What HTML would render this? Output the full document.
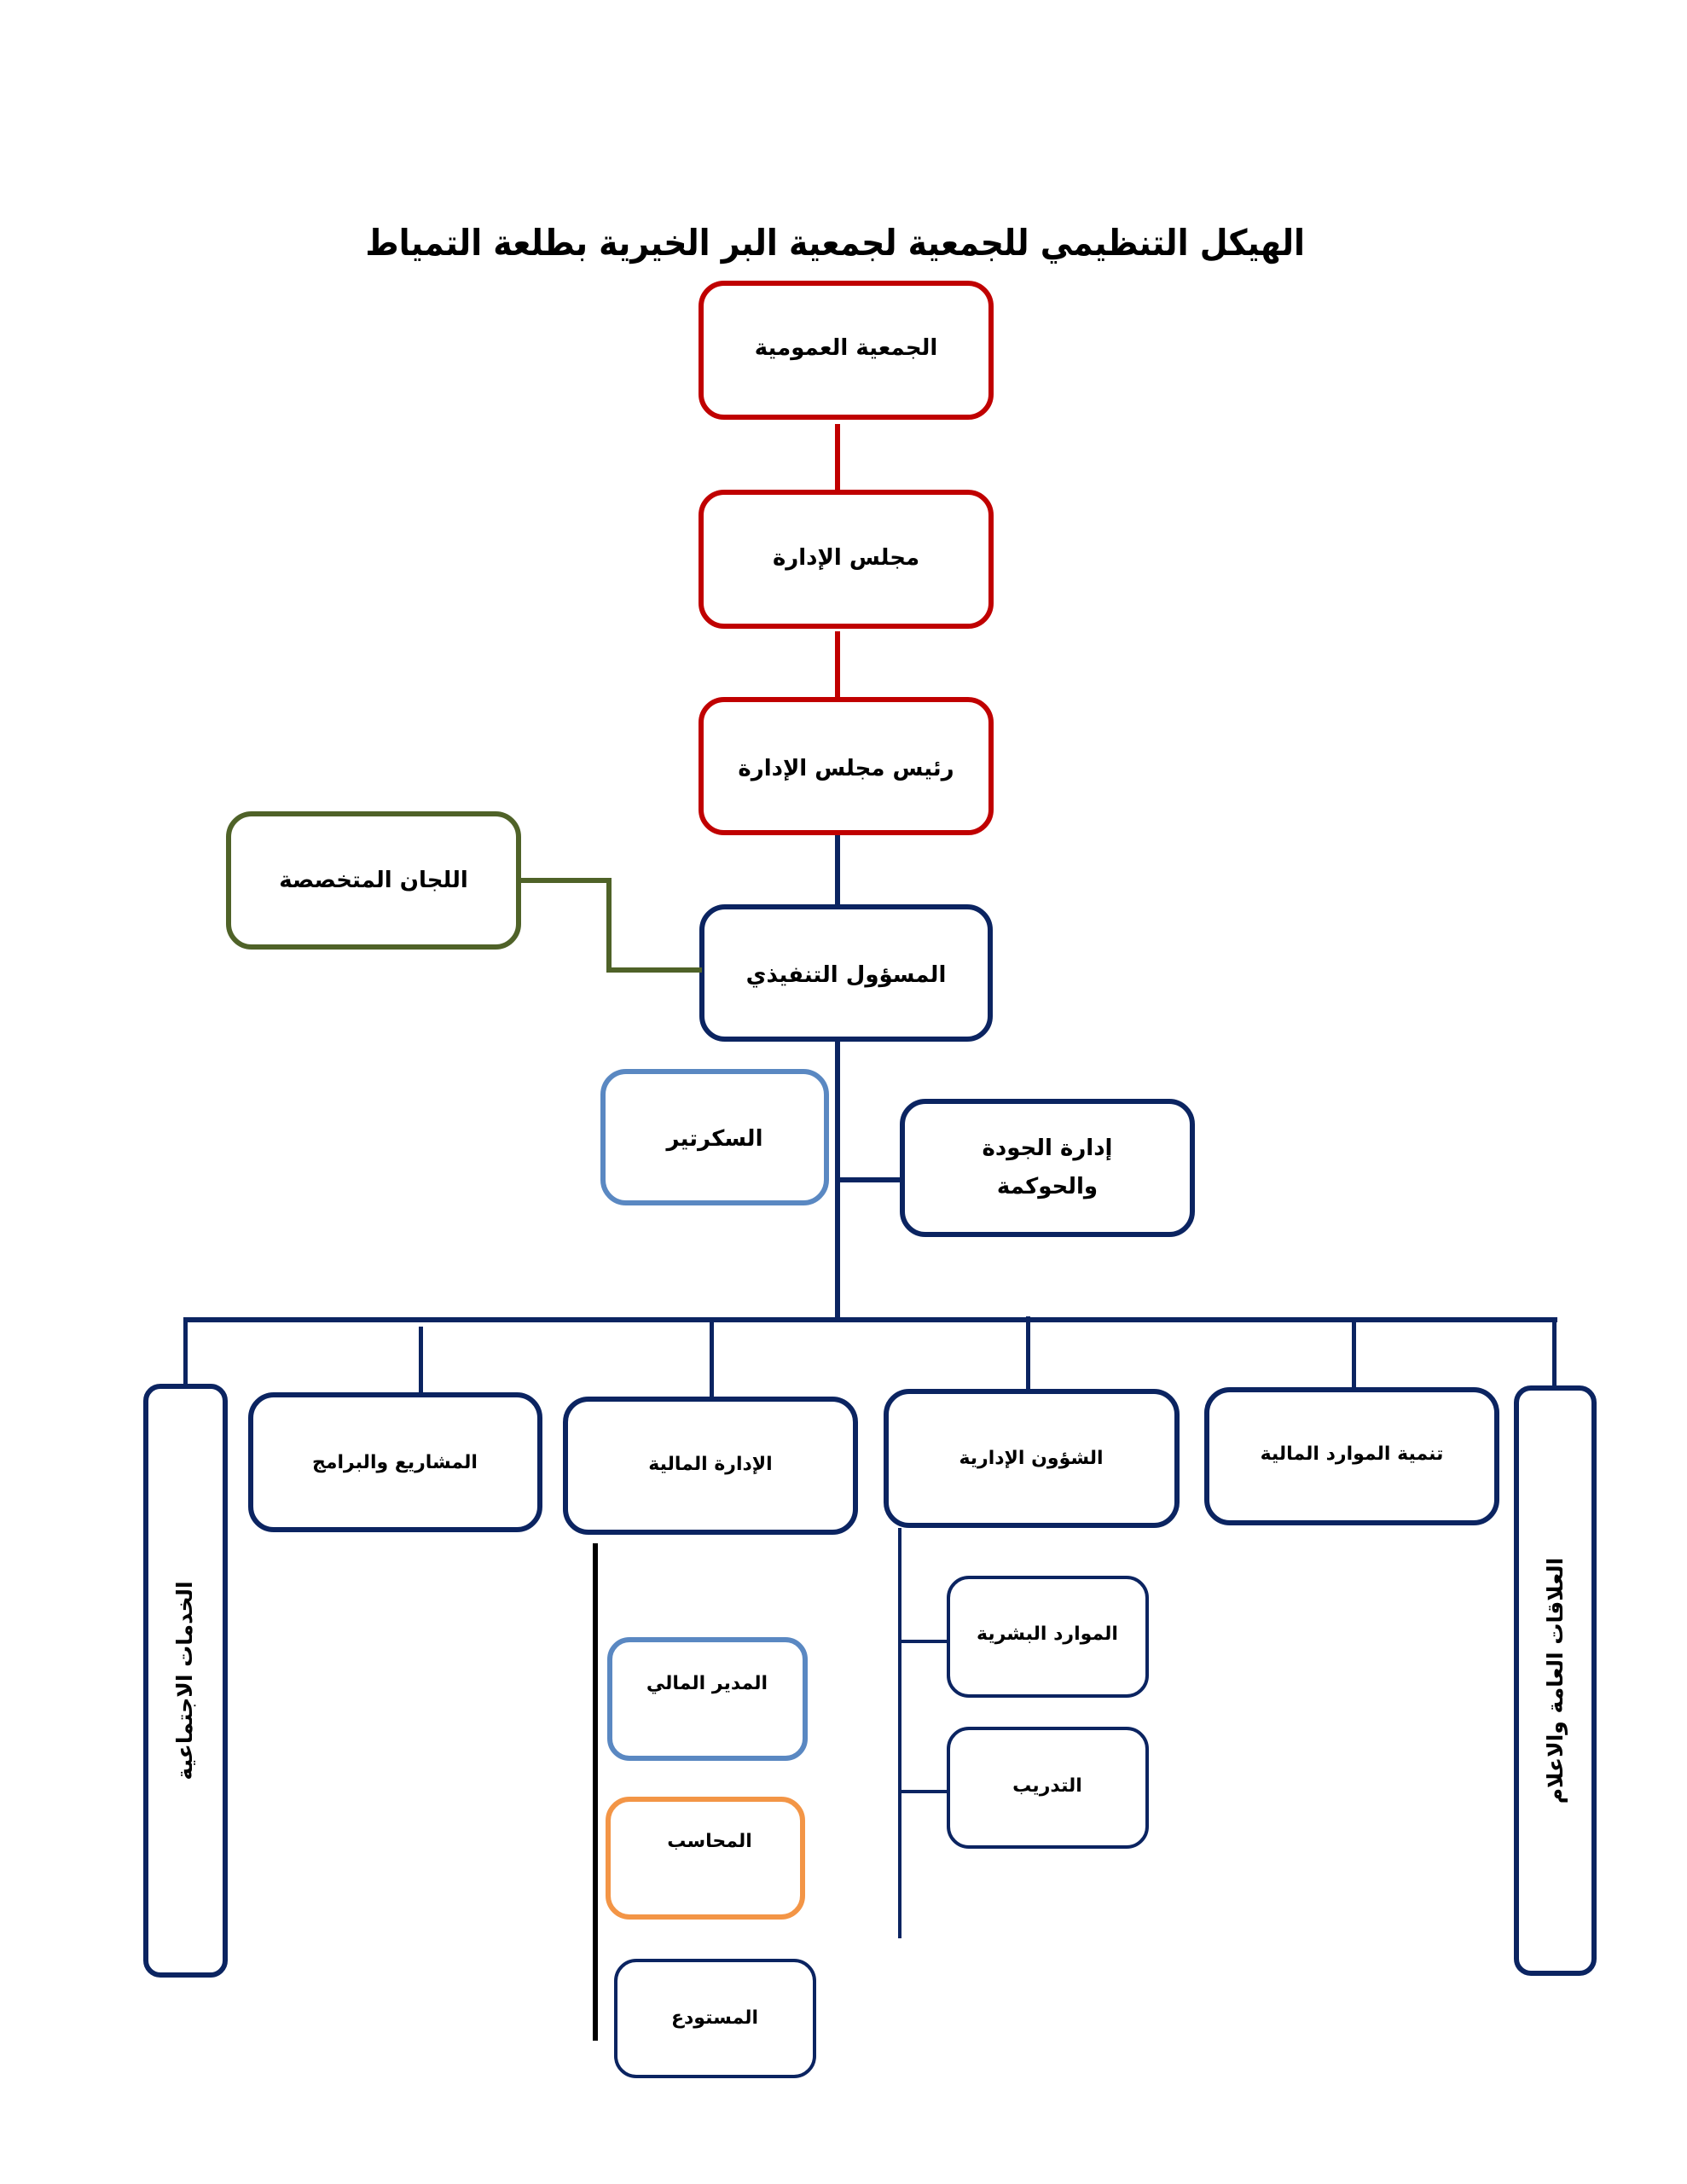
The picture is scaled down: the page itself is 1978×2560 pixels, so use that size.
<!DOCTYPE html>
<html lang="ar">
<head>
<meta charset="utf-8">
<style>
html,body{margin:0;padding:0;background:#fff;}
body{width:1978px;height:2560px;position:relative;overflow:hidden;font-family:"DejaVu Sans","Liberation Sans",sans-serif;}
.b{position:absolute;box-sizing:border-box;background:#fff;}
.l{position:absolute;}
.t{position:absolute;width:600px;text-align:center;direction:rtl;font-weight:bold;color:#000;white-space:nowrap;}
.red{border:6px solid #C00000;border-radius:30px;}
.nv{border:6px solid #0B2461;border-radius:30px;}
.nvt{border:4px solid #0B2461;border-radius:26px;}
.gr{border:6px solid #4F6228;border-radius:30px;}
.lb{border:6px solid #5A88C2;border-radius:30px;}
.or{border:6px solid #F39546;border-radius:28px;}
.vt{position:absolute;width:600px;height:40px;line-height:40px;text-align:center;direction:rtl;font-weight:bold;color:#000;white-space:nowrap;transform:rotate(-90deg);}
</style>
</head>
<body>

<!-- Title -->
<div class="t" style="left:390px;width:1200px;top:250px;height:70px;line-height:70px;font-size:42px;transform:scaleX(0.9);transform-origin:center center;">الهيكل التنظيمي للجمعية لجمعية البر الخيرية بطلعة التمياط</div>

<!-- red connectors -->
<div class="l" style="left:979px;top:497px;width:6px;height:78px;background:#C00000;"></div>
<div class="l" style="left:979px;top:740px;width:6px;height:78px;background:#C00000;"></div>

<!-- red boxes -->
<div class="b red" style="left:819px;top:329px;width:346px;height:163px;"></div>
<div class="t" style="left:692px;top:388px;height:40px;line-height:40px;font-size:26px;">الجمعية العمومية</div>

<div class="b red" style="left:819px;top:574px;width:346px;height:163px;"></div>
<div class="t" style="left:692px;top:634px;height:40px;line-height:40px;font-size:26px;">مجلس الإدارة</div>

<div class="b red" style="left:819px;top:817px;width:346px;height:162px;"></div>
<div class="t" style="left:692px;top:881px;height:40px;line-height:40px;font-size:26px;">رئيس مجلس الإدارة</div>

<!-- navy trunk -->
<div class="l" style="left:979px;top:979px;width:6px;height:82px;background:#0B2461;"></div>
<div class="l" style="left:979px;top:1220px;width:6px;height:328px;background:#0B2461;"></div>

<!-- executive -->
<div class="b nv" style="left:820px;top:1060px;width:344px;height:161px;"></div>
<div class="t" style="left:692px;top:1123px;height:40px;line-height:40px;font-size:26px;">المسؤول التنفيذي</div>

<!-- green committees + connector -->
<div class="l" style="left:608px;top:1029px;width:108px;height:6px;background:#4F6228;"></div>
<div class="l" style="left:711px;top:1029px;width:6px;height:111px;background:#4F6228;"></div>
<div class="l" style="left:711px;top:1134px;width:112px;height:6px;background:#4F6228;"></div>
<div class="b gr" style="left:265px;top:951px;width:346px;height:162px;"></div>
<div class="t" style="left:138px;top:1012px;height:40px;line-height:40px;font-size:26px;">اللجان المتخصصة</div>

<!-- secretary -->
<div class="b lb" style="left:704px;top:1253px;width:268px;height:160px;"></div>
<div class="t" style="left:538px;top:1315px;height:40px;line-height:40px;font-size:26px;">السكرتير</div>

<!-- quality -->
<div class="l" style="left:982px;top:1380px;width:76px;height:6px;background:#0B2461;"></div>
<div class="b nv" style="left:1055px;top:1288px;width:346px;height:162px;"></div>
<div class="t" style="left:928px;top:1326px;height:40px;line-height:40px;font-size:26px;">إدارة الجودة</div>
<div class="t" style="left:928px;top:1371px;height:40px;line-height:40px;font-size:26px;">والحوكمة</div>

<!-- bus -->
<div class="l" style="left:215px;top:1544px;width:1611px;height:6px;background:#0B2461;"></div>
<!-- drops -->
<div class="l" style="left:215px;top:1547px;width:5px;height:77px;background:#0B2461;"></div>
<div class="l" style="left:491px;top:1555px;width:5px;height:78px;background:#0B2461;"></div>
<div class="l" style="left:832px;top:1550px;width:5px;height:88px;background:#0B2461;"></div>
<div class="l" style="left:1203px;top:1543px;width:5px;height:86px;background:#0B2461;"></div>
<div class="l" style="left:1585px;top:1547px;width:5px;height:80px;background:#0B2461;"></div>
<div class="l" style="left:1820px;top:1547px;width:5px;height:78px;background:#0B2461;"></div>

<!-- left vertical box -->
<div class="b nv" style="left:168px;top:1622px;width:99px;height:696px;border-radius:20px;"></div>
<div class="vt" style="left:-83px;top:1950px;font-size:25px;">الخدمات الاجتماعية</div>

<!-- right vertical box -->
<div class="b nv" style="left:1775px;top:1624px;width:97px;height:692px;border-radius:20px;"></div>
<div class="vt" style="left:1524px;top:1950px;font-size:25px;">العلاقات العامة والاعلام</div>

<!-- bottom dept boxes -->
<div class="b nv" style="left:291px;top:1632px;width:345px;height:164px;"></div>
<div class="t" style="left:163px;top:1697px;height:36px;line-height:36px;font-size:22px;">المشاريع والبرامج</div>

<div class="b nv" style="left:660px;top:1637px;width:346px;height:162px;"></div>
<div class="t" style="left:533px;top:1699px;height:36px;line-height:36px;font-size:22px;">الإدارة المالية</div>

<div class="b nv" style="left:1036px;top:1628px;width:347px;height:163px;"></div>
<div class="t" style="left:909px;top:1692px;height:36px;line-height:36px;font-size:22px;">الشؤون الإدارية</div>

<div class="b nv" style="left:1412px;top:1626px;width:346px;height:162px;"></div>
<div class="t" style="left:1285px;top:1687px;height:36px;line-height:36px;font-size:22px;">تنمية الموارد المالية</div>

<!-- black line finance -->
<div class="l" style="left:695px;top:1809px;width:6px;height:583px;background:#000;"></div>

<div class="b lb" style="left:712px;top:1919px;width:235px;height:145px;border-radius:26px;"></div>
<div class="t" style="left:529px;top:1956px;height:36px;line-height:36px;font-size:22px;">المدير المالي</div>

<div class="b or" style="left:710px;top:2106px;width:234px;height:144px;"></div>
<div class="t" style="left:532px;top:2141px;height:36px;line-height:36px;font-size:22px;">المحاسب</div>

<div class="b nvt" style="left:720px;top:2296px;width:237px;height:140px;"></div>
<div class="t" style="left:538px;top:2348px;height:36px;line-height:36px;font-size:22px;">المستودع</div>

<!-- admin affairs sub -->
<div class="l" style="left:1053px;top:1791px;width:4px;height:481px;background:#0B2461;"></div>
<div class="l" style="left:1055px;top:1922px;width:57px;height:4px;background:#0B2461;"></div>
<div class="l" style="left:1055px;top:2098px;width:57px;height:4px;background:#0B2461;"></div>

<div class="b nvt" style="left:1110px;top:1847px;width:237px;height:143px;"></div>
<div class="t" style="left:928px;top:1898px;height:36px;line-height:36px;font-size:22px;">الموارد البشرية</div>

<div class="b nvt" style="left:1110px;top:2024px;width:237px;height:143px;"></div>
<div class="t" style="left:928px;top:2076px;height:36px;line-height:36px;font-size:22px;">التدريب</div>

</body>
</html>
